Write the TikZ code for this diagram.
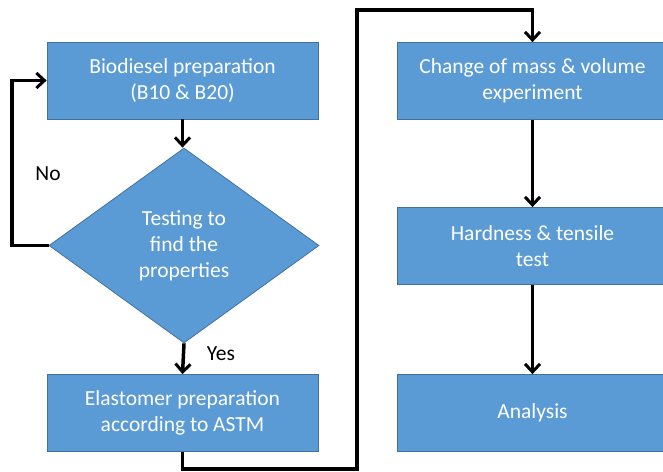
\documentclass[tikz,border=0pt]{standalone}
\usepackage{fontspec}
\setmainfont{Carlito}
\usetikzlibrary{shapes.geometric,arrows.meta}
\definecolor{boxblue}{HTML}{5B9BD5}
\definecolor{boxedge}{HTML}{41719C}
\tikzset{
  stepbox/.style={rectangle, fill=boxblue, draw=boxedge, line width=0.8pt,
    minimum width=271pt, minimum height=77pt, inner sep=0pt, text=white,
    align=center, font=\fontsize{21.5}{26}\selectfont},
  decision/.style={diamond, fill=boxblue, draw=boxedge, line width=0.8pt,
    minimum width=270pt, minimum height=195pt, aspect=1.385, inner sep=0pt,
    text=white, align=center, font=\fontsize{21.5}{26}\selectfont},
  conn/.style={line width=3.5pt, draw=black},
  arr/.style={conn, -{Straight Barb[length=8pt,width=15pt,line width=3pt]}},
  lbl/.style={text=black, font=\fontsize{21.5}{24}\selectfont}
}
\begin{document}
\begin{tikzpicture}[x=1pt,y=-1pt]
\useasboundingbox (0,0) rectangle (663,471);
\node[stepbox] (bio) at (182.5,80.5) {Biodiesel preparation\\(B10 \& B20)};
\node[decision] (test) at (184,245.5) {Testing to\\find the\\properties};
\node[stepbox] (elast) at (182.5,413) {Elastomer preparation\\according to ASTM};
\node[stepbox] (mass) at (532.5,81) {Change of mass \& volume\\experiment};
\node[stepbox] (hard) at (532.5,246) {Hardness \& tensile\\test};
\node[stepbox] (anal) at (532.5,413) {Analysis};
\node[lbl] (no) at (48,174) {No};
\node[lbl] (yes) at (221,354) {Yes};
\coordinate (loopx) at (12,245.5);
\coordinate (topy) at (357,10);
\draw[arr] (bio.south) -- (bio.south |- test.north);
\draw[arr] (test.south) -- (elast.north);
\draw[arr] (test.west) -- (loopx) |- (bio.west);
\draw[arr] (elast.south) -- ++(0,17) -| (topy) -| (mass.north);
\draw[arr] (mass.south) -- (hard.north);
\draw[arr] (hard.south) -- (anal.north);
\end{tikzpicture}
\end{document}
